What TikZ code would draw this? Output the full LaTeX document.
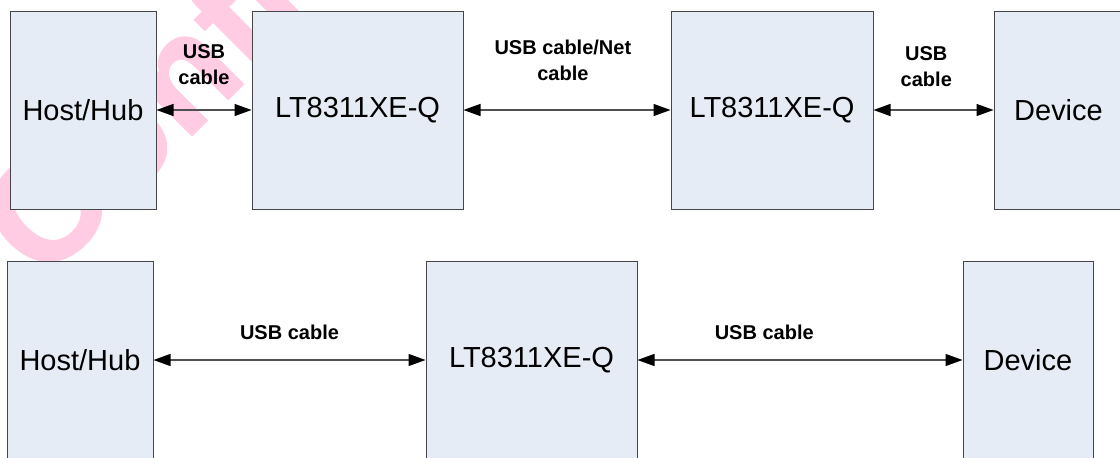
\documentclass[tikz,border=0pt]{standalone}
\usepackage{fontspec}
\setmainfont{Liberation Sans}
\newfontfamily\markfont{Liberation Sans Bold}[FakeBold=1.5]
\usetikzlibrary{arrows.meta}
\definecolor{boxfill}{RGB}{230,236,246}
\definecolor{boxline}{RGB}{70,70,70}
\definecolor{wirecol}{RGB}{80,80,80}
\definecolor{markpink}{RGB}{255,204,228}
\tikzset{
blocknode/.style={rectangle, draw=boxline, fill=boxfill, line width=1pt, minimum height=198pt, inner sep=0pt, font=\fontsize{29}{29}\selectfont},
cablelabel/.style={font=\bfseries\fontsize{20}{26}\selectfont, align=center, inner sep=0pt},
wire/.style={draw=wirecol, line width=1.3pt},
>={Triangle[length=17pt,width=12pt,color=black]}
}
\begin{document}
\begin{tikzpicture}[x=1pt, y=-1pt]
\useasboundingbox (0,0) rectangle (1120,458);
\clip (0,0) rectangle (1120,458);

%Watermark
\node[rotate=45, anchor=base west, text=markpink, inner sep=0pt, font=\markfont\fontsize{150}{150}\selectfont] (mark) at(43,284) {Confidential};

%Top row
\node[blocknode, minimum width=146pt] (hostA) at(83,110) {Host/Hub};
\node[blocknode, minimum width=211pt] (chipA) at(357.5,110) {LT8311XE-Q};
\node[blocknode, minimum width=202pt] (chipB) at(772,110) {LT8311XE-Q};
\node[blocknode, minimum width=129pt] (devA) at(1058.5,110) {Device};

\draw[<->, wire] (hostA) --node[cablelabel, above=25pt] {USB\\cable} (chipA) ;
\draw[<->, wire] (chipA) --node[cablelabel, above=29pt, pos=0.48] {USB cable/Net\\cable} (chipB) ;
\draw[<->, wire] (chipB) --node[cablelabel, above=23pt, pos=0.44] {USB\\cable} (devA) ;

%Bottom row
\node[blocknode, minimum width=146pt] (hostB) at(80,360) {Host/Hub};
\node[blocknode, minimum width=211pt] (chipC) at(531.5,360) {LT8311XE-Q};
\node[blocknode, minimum width=130pt] (devB) at(1028,360) {Device};

\draw[<->, wire] (hostB) --node[cablelabel, above=20pt] {USB cable} (chipC) ;
\draw[<->, wire] (chipC) --node[cablelabel, above=20pt, pos=0.39] {USB cable} (devB) ;
\end{tikzpicture}
\end{document}
